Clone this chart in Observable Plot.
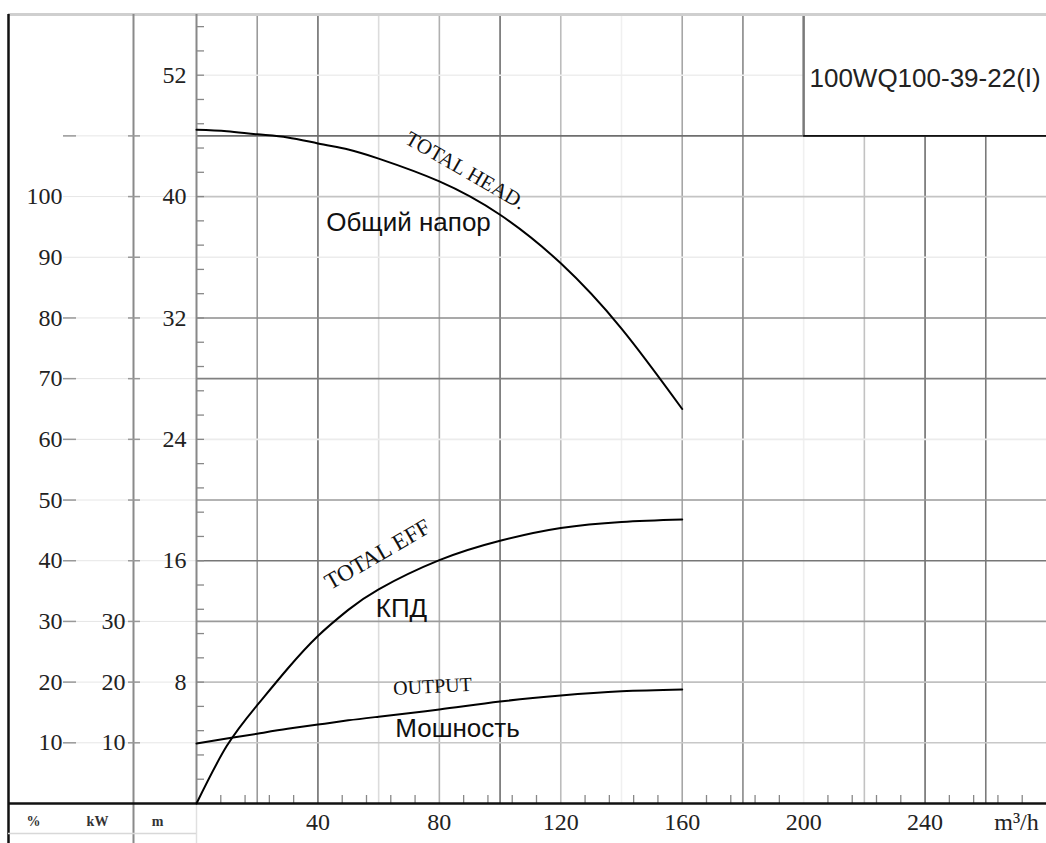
<!DOCTYPE html>
<html>
<head>
<meta charset="utf-8">
<script src="https://cdn.jsdelivr.net/npm/d3@7"></script>
<script src="https://cdn.jsdelivr.net/npm/@observablehq/plot@0.6"></script>
<style>
  html, body { margin: 0; padding: 0; background: #fff; }
  #chart svg { display: block; }
</style>
</head>
<body>
<div id="chart"></div>
<script>
// ---- data ----
const flow      = [0, 10, 20, 30, 40, 50, 60, 80, 100, 120, 140, 160];            // m³/h
const headM     = [44.4, 44.3, 44.1, 43.9, 43.5, 43.1, 42.5, 41.0, 38.8, 35.6, 31.3, 26.0]; // m
const effPct    = [0, 9.5, 16.2, 22.2, 27.6, 31.9, 35.3, 40.1, 43.3, 45.4, 46.4, 46.8];  // %
const powerKW   = [9.9, 10.7, 11.5, 12.3, 13.0, 13.7, 14.3, 15.5, 16.8, 17.8, 18.5, 18.8]; // kW

const xTickValues    = [40, 80, 120, 160, 200, 240];
const headTickValues = [8, 16, 24, 32, 40, 48];
const headTickLabels = ["8", "16", "24", "32", "40", "52"];
const effTickValues  = [10, 20, 30, 40, 50, 60, 70, 80, 90, 100];
const powerTickValues = [10, 20, 30];
const xGridValues    = [20, 40, 60, 80, 100, 120, 140, 160, 180, 200, 220, 240, 260];
const yGridValues    = [4, 8, 12, 16, 20, 24, 28, 32, 36, 40, 44, 48];
const modelName = "100WQ100-39-22(I)";
const unitLabel = "m³/h";
const cornerLabels = ["%", "kW", "m"];

// ---- layout / style ----
const W = 1046, H = 843, ML = 196, MR = 0, MT = 14, MB = 40;
const XMAX = 280, YMAX = 52;
const toHead = 0.4; // 10 % or 10 kW correspond to 4 m on the shared grid
const px2x = p => (p - ML) * XMAX / (W - ML - MR);
const py2y = p => (H - MB - p) * YMAX / (H - MB - MT);

const xGridShade = {20:"#9a9a9a",40:"#6e6e6e",60:"#dcdcdc",80:"#b0b0b0",100:"#6e6e6e",120:"#bcbcbc",
                    140:"#f0f0f0",160:"#a6a6a6",180:"#888888",200:"#f0f0f0",220:"#c2c2c2",240:"#6e6e6e",260:"#7a7a7a"};
const yGridShade = {4:"#c8c8c8",8:"#c0c0c0",12:"#9a9a9a",16:"#777777",20:"#9a9a9a",24:"#ececec",
                    28:"#808080",32:"#8c8c8c",36:"#ececec",40:"#c4c4c4",44:"#6e6e6e",48:"#eeeeee"};

const rows = flow.map((q, i) => ({q, h: headM[i], e: effPct[i] * toHead, p: powerKW[i] * toHead}));
const serif = "'Liberation Serif', 'Times New Roman', serif";
const sans = "'Liberation Sans', Arial, sans-serif";
const headMinor = d3.range(1.6, 52, 1.6);
const xMinor = d3.range(8, 280, 8).filter(v => Math.abs(v % 20) > 2 && Math.abs(v % 20) < 18);
const leftLevels = d3.range(4, 48, 4);

const chart = Plot.plot({
  width: W, height: H,
  marginLeft: ML, marginRight: MR, marginTop: MT, marginBottom: MB,
  x: {domain: [0, XMAX], axis: null},
  y: {domain: [0, YMAX], axis: null},
  style: {background: "white", overflow: "visible"},
  marks: [
    // faint extensions of grid lines into the left scale area
    Plot.ruleY(leftLevels, {x1: px2x(63), x2: 0, stroke: "#e6e6e6", strokeWidth: 1}),
    // grid
    Plot.ruleX(xGridValues, {y1: 0, y2: YMAX, stroke: d => xGridShade[d], strokeWidth: 1.6}),
    Plot.ruleY(yGridValues, {x1: 0, x2: d => d >= 48 ? 200 : XMAX, stroke: d => yGridShade[d], strokeWidth: 1.6}),
    // model box
    Plot.rect([modelName], {x1: 200, x2: XMAX, y1: 44, y2: YMAX, fill: "white"}),
    Plot.ruleX([200], {y1: 44, y2: YMAX, stroke: "#7a7a7a", strokeWidth: 2.5}),
    Plot.ruleY([44], {x1: 200, x2: XMAX, stroke: "#111", strokeWidth: 1.8}),
    Plot.text([modelName], {x: 240, y: 47.8, text: d => d, fontSize: 26, fontFamily: sans, fill: "#222"}),
    // frame lines
    Plot.ruleY([YMAX], {x1: px2x(8), x2: XMAX, stroke: "#cfcfcf", strokeWidth: 3}),
    Plot.ruleX([px2x(8)], {y1: py2y(H), y2: YMAX, stroke: "#111", strokeWidth: 2.5}),
    Plot.ruleX([px2x(133)], {y1: py2y(H), y2: YMAX, stroke: "#8a8a8a", strokeWidth: 2}),
    Plot.ruleX([0], {y1: 0, y2: YMAX, stroke: "#888", strokeWidth: 2}),
    Plot.ruleX([0], {y1: py2y(H), y2: 0, stroke: "#e0e0e0", strokeWidth: 1.5}),
    Plot.ruleY([py2y(833)], {x1: px2x(8), x2: 0, stroke: "#d8d8d8", strokeWidth: 1.5}),
    // head axis minor ticks
    Plot.ruleY(headMinor, {x1: 0, x2: px2x(204), stroke: "#888", strokeWidth: 1.3}),
    // x axis minor ticks
    Plot.ruleX(xMinor, {y1: 0, y2: py2y(795), stroke: "#888", strokeWidth: 1.3}),
    Plot.ruleY([0], {x1: px2x(8), x2: XMAX, stroke: "#111", strokeWidth: 2.5}),
    // efficiency (%) scale
    Plot.ruleY([...effTickValues.filter(v => v <= 80), 110], {y: d => d * toHead, x1: px2x(63), x2: px2x(76), stroke: "#999", strokeWidth: 1.5}),
    Plot.text(effTickValues, {x: px2x(62), y: d => d * toHead, text: d => String(d), textAnchor: "end", fontSize: 24, fontFamily: serif, fill: "#222"}),
    // power (kW) scale
    Plot.ruleY(d3.range(10, 120, 10), {y: d => d * toHead, x1: px2x(128), x2: px2x(140), stroke: "#999", strokeWidth: 1.5}),
    Plot.text(powerTickValues, {x: px2x(125), y: d => d * toHead, text: d => String(d), textAnchor: "end", fontSize: 24, fontFamily: serif, fill: "#222"}),
    // head (m) scale
    Plot.text(headTickValues, {x: px2x(186), y: d => d, text: (d, i) => headTickLabels[i], textAnchor: "end", fontSize: 24, fontFamily: serif, fill: "#222"}),
    // x tick labels
    Plot.text(xTickValues, {x: d => d, y: 0, dy: 19, text: d => String(d), fontSize: 24, fontFamily: serif, fill: "#222"}),
    Plot.text([unitLabel], {x: px2x(1016), y: 0, dy: 19, text: d => d, fontSize: 24, fontFamily: serif, fill: "#222"}),
    Plot.text(cornerLabels, {x: (d, i) => px2x([33, 97, 157][i]), y: 0, dy: 18, text: d => d, fontSize: 14, fontWeight: "bold", fontFamily: serif, fill: "#333"}),
    // curves
    Plot.line(rows, {x: "q", y: "h", curve: "natural", stroke: "#000", strokeWidth: 2}),
    Plot.line(rows, {x: "q", y: "e", curve: "natural", stroke: "#000", strokeWidth: 2}),
    Plot.line(rows, {x: "q", y: "p", curve: "natural", stroke: "#000", strokeWidth: 2}),
    // curve labels
    Plot.text(["TOTAL HEAD."], {x: px2x(465), y: py2y(170), text: d => d, rotate: 30, fontSize: 21, fontFamily: serif, fill: "#111"}),
    Plot.text(["Общий напор"], {x: px2x(408), y: py2y(222), text: d => d, fontSize: 26, fontFamily: sans, fill: "#111"}),
    Plot.text(["TOTAL EFF"], {x: px2x(377), y: py2y(554), text: d => d, rotate: -30, fontSize: 23, fontFamily: serif, fill: "#111"}),
    Plot.text(["КПД"], {x: px2x(401), y: py2y(608), text: d => d, fontSize: 26, fontFamily: sans, fill: "#111"}),
    Plot.text(["OUTPUT"], {x: px2x(432), y: py2y(686), text: d => d, rotate: -3, fontSize: 20, fontFamily: serif, fill: "#111"}),
    Plot.text(["Мошность"], {x: px2x(457), y: py2y(728), text: d => d, fontSize: 26, fontFamily: sans, fill: "#111"})
  ]
});
document.getElementById("chart").appendChild(chart);
</script>
</body>
</html>
